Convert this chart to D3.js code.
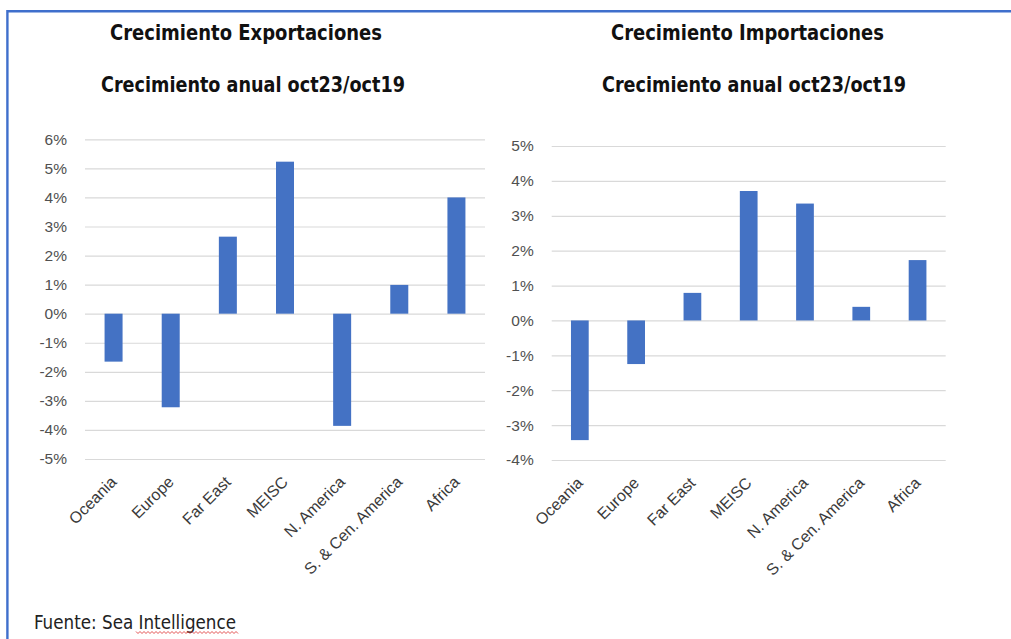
<!DOCTYPE html>
<html>
<head>
<meta charset="utf-8">
<script src="https://cdn.jsdelivr.net/npm/d3@7"></script>
<style>
  html, body { margin: 0; padding: 0; background: #fff; }
  svg { display: block; }
</style>
</head>
<body>
<svg id="chart" width="1011" height="639"></svg>
<script>
// categories (same for both charts)
const regions = ["Oceania", "Europe", "Far East", "MEISC", "N. America", "S. & Cen. America", "Africa"];

// growth oct23 vs oct19, in %
const exportGrowth = [-1.65, -3.22, 2.65, 5.23, -3.86, 0.99, 4.0];
const importGrowth = [-3.43, -1.25, 0.79, 3.71, 3.35, 0.39, 1.73];

// axis ticks
const exportTicks = [6, 5, 4, 3, 2, 1, 0, -1, -2, -3, -4, -5];
const importTicks = [5, 4, 3, 2, 1, 0, -1, -2, -3, -4];

const titles = ["Crecimiento Exportaciones", "Crecimiento Importaciones"];
const subtitle = "Crecimiento anual oct23/oct19";
const source = "Fuente: Sea Intelligence";

const svg = d3.select("#chart");
const blue = "#4472C4";

// frame: top and left border lines
svg.append("line").attr("x1", 7).attr("x2", 1011).attr("y1", 11.3).attr("y2", 11.3)
  .attr("stroke", "#3F6FCC").attr("stroke-width", 2.6);
svg.append("line").attr("x1", 7.4).attr("x2", 7.4).attr("y1", 10).attr("y2", 639)
  .attr("stroke", "#3F6FCC").attr("stroke-width", 2.4);

const titleFont = "'Liberation Sans Narrow', 'DejaVu Sans Condensed', sans-serif";

function drawChart(opts) {
  const g = svg.append("g");

  const x = d3.scaleBand()
    .domain(regions)
    .range([opts.x0, opts.x1])
    .paddingInner(0.685)
    .paddingOuter(0.3425);

  const y = d3.scaleLinear()
    .domain(opts.domain)
    .range([opts.y0, opts.y1]);

  // titles
  g.append("text")
    .attr("x", opts.titleX).attr("y", 40)
    .attr("text-anchor", "middle")
    .attr("font-family", titleFont).attr("font-weight", "bold")
    .attr("font-size", 21).attr("fill", "#111")
    .attr("textLength", opts.titleW).attr("lengthAdjust", "spacingAndGlyphs")
    .text(opts.title);
  g.append("text")
    .attr("x", opts.subX).attr("y", 92)
    .attr("text-anchor", "middle")
    .attr("font-family", titleFont).attr("font-weight", "bold")
    .attr("font-size", 21).attr("fill", "#111")
    .attr("textLength", 304).attr("lengthAdjust", "spacingAndGlyphs")
    .text(subtitle);

  // gridlines + y labels
  const yAxis = d3.axisLeft(y)
    .tickValues(opts.ticks)
    .tickSize(-(opts.x1 - opts.x0))
    .tickPadding(18)
    .tickFormat(d => d + "%");

  const ya = g.append("g")
    .attr("transform", `translate(${opts.x0},0)`)
    .call(yAxis);
  ya.select(".domain").remove();
  ya.selectAll(".tick line").attr("stroke", "#D9D9D9").attr("stroke-width", 1.2);
  ya.selectAll(".tick text")
    .attr("font-family", "'Liberation Sans', Arial, sans-serif")
    .attr("font-size", 15.5).attr("fill", "#505050");

  // bars
  g.selectAll("rect.bar")
    .data(opts.values)
    .join("rect")
    .attr("class", "bar")
    .attr("x", (d, i) => x(regions[i]))
    .attr("width", x.bandwidth())
    .attr("y", d => y(Math.max(0, d)))
    .attr("height", d => Math.abs(y(d) - y(0)))
    .attr("fill", blue);

  // category labels (rotated)
  const xAxis = d3.axisBottom(x).tickSize(0).tickPadding(0);
  const xa = g.append("g")
    .attr("transform", `translate(0,${opts.y0})`)
    .call(xAxis);
  xa.select(".domain").remove();
  xa.selectAll(".tick text")
    .attr("font-family", "'Liberation Sans', Arial, sans-serif")
    .attr("font-size", 16).attr("fill", "#3a3a3a")
    .attr("text-anchor", "end")
    .attr("dy", 0)
    .attr("transform", "translate(4,24) rotate(-45)");
}

drawChart({
  title: titles[0], titleX: 246, titleW: 272, subX: 253,
  values: exportGrowth, ticks: exportTicks,
  domain: [-5, 6], x0: 85, x1: 485, y0: 459, y1: 139.3
});

drawChart({
  title: titles[1], titleX: 747.5, titleW: 273, subX: 754,
  values: importGrowth, ticks: importTicks,
  domain: [-4, 5], x0: 551.7, x1: 945.7, y0: 460, y1: 146
});

// source note
svg.append("text")
  .attr("x", 34).attr("y", 629)
  .attr("font-family", titleFont)
  .attr("font-size", 19).attr("fill", "#222")
  .attr("textLength", 202).attr("lengthAdjust", "spacingAndGlyphs")
  .text(source);

// red spell-check squiggle under "Intelligence"
const wave = [];
for (let xx = 136; xx <= 238; xx += 2) wave.push([xx, (xx / 2) % 2 === 0 ? 631.5 : 633.5]);
svg.append("path")
  .attr("d", d3.line()(wave))
  .attr("fill", "none").attr("stroke", "#E04040").attr("stroke-width", 0.9);
</script>
</body>
</html>
